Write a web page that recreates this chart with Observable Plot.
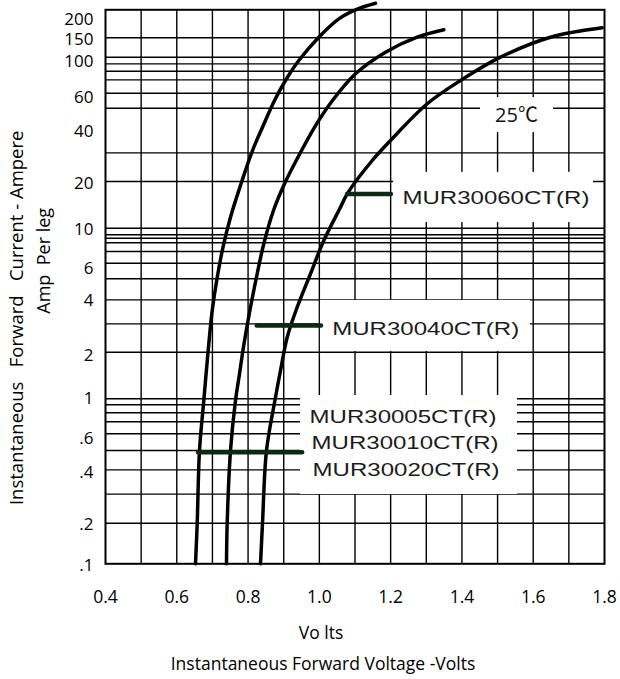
<!DOCTYPE html>
<html><head><meta charset="utf-8">
<script src="https://cdn.jsdelivr.net/npm/d3@7"></script>
<script src="https://cdn.jsdelivr.net/npm/@observablehq/plot@0.6"></script>
<style>body{margin:0;background:#fff;} svg{display:block}</style>
</head><body><div id="chart"></div>
<script>
// ---- axes ----
const xDomain = [0.4, 1.8];
const yDomain = [0.1, 200];
const xTickValues = [0.4, 0.6, 0.8, 1.0, 1.2, 1.4, 1.6, 1.8];
const xGrid = [0.5, 0.6, 0.7, 0.8, 0.9, 1.0, 1.1, 1.2, 1.3, 1.4, 1.5, 1.6, 1.7];
const yGrid = [0.1745, 0.26, 0.363, 0.473, 0.595, 0.702, 0.794, 0.886, 0.962,
  1.823, 2.69, 3.74, 4.99, 6.18, 7.26, 8.18, 8.71, 9.13, 9.99,
  18.97, 28.1, 51.8, 63.7, 76.5, 86.1, 95.3, 104.4, 136.2];
const yTickLabels = [".1", ".2", ".4", ".6", "1", "2", "4", "6", "10", "20", "40", "60", "100", "150", "200"];
const yTickAt = [0.0977, 0.1715, 0.3515, 0.558, 0.959, 1.742, 3.71, 5.72, 9.81, 18.45, 37.6, 60.3, 98.4, 133, 175];

// ---- curves (Volts, Amps) ----
const c1Volts = [0.6525, 0.6573, 0.6637, 0.6758, 0.6814, 0.6898, 0.6994, 0.7120, 0.7297, 0.7507, 0.7802, 0.8124, 0.8405, 0.8742, 0.9050, 0.9423, 0.9984, 1.0546, 1.1014, 1.1575];
const c1Amps  = [0.1, 0.1745, 0.473, 0.940, 1.293, 2.046, 3.23, 4.88, 7.70, 11.62, 18.38, 29.0, 39.9, 57.6, 75.8, 99.7, 137.3, 176.7, 200, 218.9];
const c2Volts = [0.7395, 0.7414, 0.7507, 0.7647, 0.7745, 0.7886, 0.8068, 0.8256, 0.8441, 0.8713, 0.9022, 0.9401, 0.9864, 1.0369, 1.1014, 1.1856, 1.2745, 1.3491];
const c2Amps  = [0.1, 0.1745, 0.473, 0.940, 1.293, 2.046, 3.38, 5.35, 8.07, 12.74, 18.38, 26.5, 39.9, 57.6, 83.1, 111.8, 137.3, 152.0];
const c3Volts = [0.8349, 0.8405, 0.8517, 0.8770, 0.8910, 0.9098, 0.9378, 0.9752, 1.0125, 1.0593, 1.0781, 1.1483, 1.1996, 1.3026, 1.3960, 1.5082, 1.6485, 1.7935];
const c3Amps  = [0.1, 0.1745, 0.473, 0.983, 1.418, 2.24, 3.38, 5.35, 8.44, 13.33, 16.02, 25.3, 33.3, 55.1, 75.8, 104.4, 137.3, 156.2];
const seriesNames = ["MUR30005-20", "MUR30040", "MUR30060"];

// ---- annotations ----
const markerAmps = [0.462, 2.63, 16.0];
const markerV1 = [0.661, 0.826, 1.079];
const markerV2 = [0.953, 1.006, 1.202];
const boxV1 = [1.452, 1.208, 1.003, 0.947];
const boxV2 = [1.657, 1.769, 1.592, 1.556];
const boxA1 = [37.1, 10.8, 1.84, 0.2588];
const boxA2 = [60.0, 21.5, 3.71, 1.006];
const partLabels = ["MUR30060CT(R)", "MUR30040CT(R)", "MUR30005CT(R)", "MUR30010CT(R)", "MUR30020CT(R)"];
const partLabelV = [1.233, 1.036, 0.9724, 0.978, 0.981];
const partLabelA = [15.0, 2.51, 0.747, 0.523, 0.3597];
const tempLabel = "25\u2103";
const tempV = 1.553, tempA = 46.9;
const xTitle = "Instantaneous Forward Voltage -Volts";
const xUnit = "Vo lts";
const yTitle1 = "Instantaneous\u00a0\u00a0 Forward\u00a0\u00a0 Current - Ampere";
const yTitle2 = "Amp\u00a0 Per leg";

// ---- build tables ----
const curvePts = [];
[[c1Volts, c1Amps], [c2Volts, c2Amps], [c3Volts, c3Amps]].forEach(([vs, as], k) =>
  vs.forEach((v, i) => curvePts.push({series: seriesNames[k], v, a: as[i]})));
const markers = markerAmps.map((a, i) => ({a, v1: markerV1[i], v2: markerV2[i]}));
const boxes = boxV1.map((v, i) => ({v1: v, v2: boxV2[i], a1: boxA1[i], a2: boxA2[i]}));
const parts = partLabels.map((t, i) => ({t, v: partLabelV[i], a: partLabelA[i]}));
const yTicks = yTickLabels.map((t, i) => ({t, a: yTickAt[i]}));

const tickFont = "Open Sans, Noto Sans, sans-serif";
const chart = Plot.plot({
  width: 620, height: 679,
  marginLeft: 105, marginRight: 16, marginTop: 9.3, marginBottom: 115.7,
  x: {domain: xDomain, axis: null},
  y: {type: "log", domain: yDomain, axis: null},
  style: {background: "white", color: "black"},
  marks: [
    Plot.ruleX(xGrid, {stroke: "black", strokeWidth: 1.4, strokeOpacity: 1}),
    Plot.ruleY(yGrid, {stroke: "black", strokeWidth: 1.4, strokeOpacity: 1}),
    Plot.rect(boxes, {x1: "v1", x2: "v2", y1: "a1", y2: "a2", fill: "white"}),
    Plot.frame({stroke: "black", strokeWidth: 2}),
    Plot.line(curvePts, {x: "v", y: "a", z: "series", stroke: "black", strokeWidth: 3.5, curve: "catmull-rom"}),
    Plot.ruleY(markers, {y: "a", x1: "v1", x2: "v2", stroke: "#0c2a10", strokeWidth: 4.5, strokeLinecap: "round"}),
    Plot.text(parts, {x: "v", y: "a", text: "t", textAnchor: "start", fontFamily: "Liberation Sans, Arial, sans-serif", fontSize: 18, fill: "#1c1c1c"}),
    Plot.text([tempLabel], {x: () => tempV, y: () => tempA, text: d => d, fontFamily: "Open Sans, Noto Sans CJK SC, sans-serif", fontSize: 20, fill: "#111"}),
    Plot.text(yTicks, {y: "a", text: "t", frameAnchor: "left", textAnchor: "end", lineAnchor: "middle", dx: -12, fontFamily: tickFont, fontSize: 17}),
    Plot.text(xTickValues, {x: d => d, frameAnchor: "bottom", textAnchor: "middle", lineAnchor: "middle", text: d => d.toFixed(1), dy: 33.7, fontFamily: tickFont, fontSize: 17.5}),
    Plot.text([xUnit], {frameAnchor: "bottom", textAnchor: "middle", lineAnchor: "middle", text: d => d, dx: -34, dy: 70, fontFamily: tickFont, fontSize: 17.5}),
    Plot.text([xTitle], {frameAnchor: "bottom", textAnchor: "middle", lineAnchor: "middle", text: d => d, dx: -32, dy: 101, fontFamily: tickFont, fontSize: 17.5}),
    Plot.text([yTitle1], {frameAnchor: "left", textAnchor: "middle", lineAnchor: "middle", text: d => d, rotate: -90, dx: -88, dy: 31, fontFamily: tickFont, fontSize: 18.5}),
    Plot.text([yTitle2], {frameAnchor: "left", textAnchor: "middle", lineAnchor: "middle", text: d => d, rotate: -90, dx: -61, dy: -26, fontFamily: tickFont, fontSize: 18})
  ]
});
document.getElementById("chart").appendChild(chart);
d3.select(chart).selectAll("text").each(function() {
  if (/^MUR/.test(this.textContent)) {
    d3.select(this).attr("textLength", 187).attr("lengthAdjust", "spacingAndGlyphs");
  }
});
</script>
</body></html>
